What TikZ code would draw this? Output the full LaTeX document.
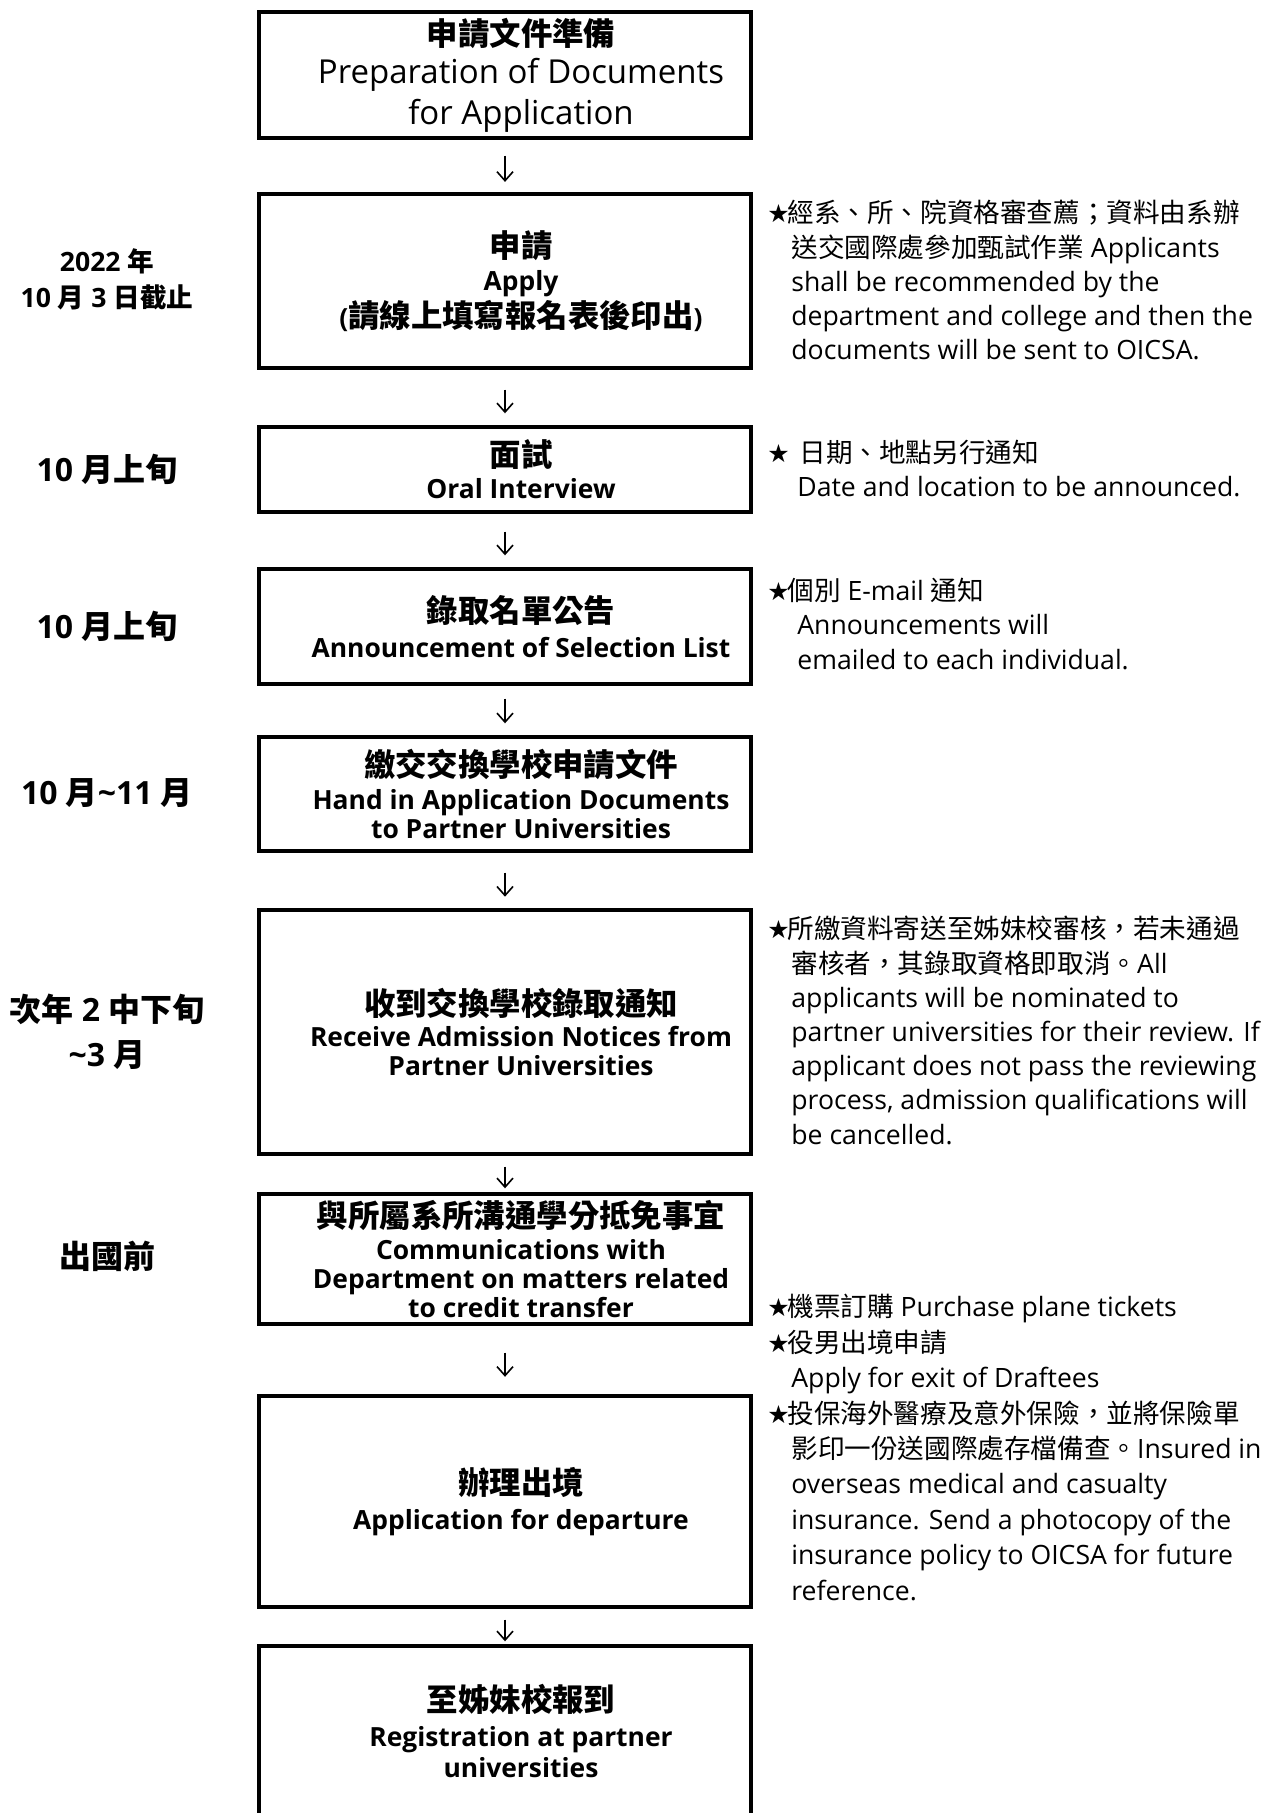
\documentclass[tikz,border=0pt]{standalone}
\usepackage{fontspec}
\setmainfont{Open Sans}
\newfontfamily\cjk{Noto Sans CJK TC}
\newfontfamily\sym{DejaVu Sans}
\usetikzlibrary{arrows.meta}
\newcommand{\zh}[1]{{\cjk #1}}
\newcommand{\zhb}[1]{{\cjk\fontsize{15.7}{14.5}\selectfont #1}}
\newcommand{\st}{\makebox[10pt][l]{\sym\fontsize{12.5}{10}\selectfont ★}}
\newcommand{\ind}{\hspace*{12pt}}
\newcommand{\indb}{\hspace*{15pt}}
\newcommand{\inbox}[1]{\hspace*{16pt}\begin{minipage}{230pt}\centering #1\end{minipage}}

\begin{document}
\lineskiplimit=-100pt
\begin{tikzpicture}[x=0.5pt,y=0.5pt]
\tikzstyle{every node}+=[inner sep=0pt]
\tikzstyle{box}=[draw, line width=1.7pt, minimum width=246pt, font=\bfseries\fontsize{13.2}{14.5}\selectfont]
\tikzstyle{note}=[anchor=north west, align=left, font=\fontsize{13.3}{17.1}\selectfont]
\tikzstyle{when}=[align=center, font=\bfseries\fontsize{16}{22.5}\selectfont]
\tikzstyle{arr}=[line width=0.8pt, -{Straight Barb[length=4.5pt,width=8pt]}]
\useasboundingbox (0,0) rectangle (1262,-1813);
\node [box, minimum height=63pt, font=\fontsize{16.5}{20.25}\selectfont] (b1) at (505,-75) {\inbox{{\bfseries\zhb{申請文件準備}}\\[-1pt]Preparation of Documents\\for Application}};
\node [box, minimum height=87pt] (b2) at (505,-281) {\inbox{\zhb{申請}\\[2pt]Apply\\[0.8pt](\zhb{請線上填寫報名表後印出})}};
\node [box, minimum height=42.5pt] (b3) at (505,-469.5) {\inbox{\zhb{面試}\\[1.5pt]Oral Interview}};
\node [box, minimum height=57.5pt] (b4) at (505,-626.5) {\inbox{\zhb{錄取名單公告}\\[2.6pt]Announcement of Selection List}};
\node [box, minimum height=57pt] (b5) at (505,-794) {\inbox{\zhb{繳交交換學校申請文件}\\[2.1pt]Hand in Application Documents\\to Partner Universities}};
\node [box, minimum height=122pt] (b6) at (505,-1032) {\inbox{\zhb{收到交換學校錄取通知}\\[1.3pt]Receive Admission Notices from\\Partner Universities}};
\node [box, minimum height=65pt] (b7) at (505,-1259) {\inbox{\zhb{與所屬系所溝通學分抵免事宜}\\[1.3pt]Communications with\\Department on matters related\\to credit transfer}};
\node [box, minimum height=105.5pt] (b8) at (505,-1501.5) {\inbox{\zhb{辦理出境}\\[2.7pt]Application for departure}};
\node [box, minimum height=85pt] (b9) at (505,-1731) {\inbox{\zhb{至姊妹校報到}\\[2.6pt]Registration at partner\\[1.1pt]universities}};
\draw [arr, shorten <=8pt, shorten >=5.2pt] (b1) -- (b2);
\draw [arr, shorten <=10pt, shorten >=6pt] (b2) -- (b3);
\draw [arr, shorten <=9pt, shorten >=6pt] (b3) -- (b4);
\draw [arr, shorten <=6.5pt, shorten >=6pt] (b4) -- (b5);
\draw [arr, shorten <=10pt, shorten >=5.8pt] (b5) -- (b6);
\draw [arr, shorten <=5.5pt, shorten >=2pt] (b6) -- (b7);
\draw [arr, shorten <=13.5pt, shorten >=8.75pt] (b7) -- (b8);
\draw [arr, shorten <=5.5pt, shorten >=1.5pt] (b8) -- (b9);
\node [when, font=\bfseries\fontsize{13.3}{18}\selectfont] (w2) at (107,-279) {2022 \zh{年}\\10 \zh{月} 3 \zh{日截止}};
\node [when] (w3) at (107,-469) {10 \zh{月上旬}};
\node [when] (w4) at (107,-626) {10 \zh{月上旬}};
\node [when] (w5) at (107,-793) {10 \zh{月}\textasciitilde 11 \zh{月}};
\node [when] (w6) at (107,-1032) {\zh{次年} 2 \zh{中下旬}\\\textasciitilde 3 \zh{月}};
\node [when] (w7) at (107,-1256) {\zh{出國前}};
\node [note] (n2) at (767,-200) {\st\zh{經系、所、院資格審查薦；資料由系辦}\\\ind\zh{送交國際處參加甄試作業} Applicants\\\ind shall be recommended by the\\\ind department and college and then the\\\ind documents will be sent to OICSA.};
\node [note] (n3) at (767,-440) {\st\hspace{6pt}\zh{日期、地點另行通知}\\\indb Date and location to be announced.};
\node [note] (n4) at (767,-578) {\st\zh{個別} E-mail \zh{通知}\\\indb Announcements will\\\indb emailed to each individual.};
\node [note] (n6) at (767,-916) {\st\zh{所繳資料寄送至姊妹校審核，若未通過}\\\ind\zh{審核者，其錄取資格即取消。}All\\\ind applicants will be nominated to\\\ind partner universities for their review. If\\\ind applicant does not pass the reviewing\\\ind process, admission qualifications will\\\ind be cancelled.};
\node [note, font=\fontsize{13.3}{17.7}\selectfont] (n8) at (767,-1294) {\st\zh{機票訂購} Purchase plane tickets\\\st\zh{役男出境申請}\\\ind Apply for exit of Draftees\\\st\zh{投保海外醫療及意外保險，並將保險單}\\\ind\zh{影印一份送國際處存檔備查。}Insured in\\\ind overseas medical and casualty\\\ind insurance. Send a photocopy of the\\\ind insurance policy to OICSA for future\\\ind reference.};
\end{tikzpicture}
\end{document}
